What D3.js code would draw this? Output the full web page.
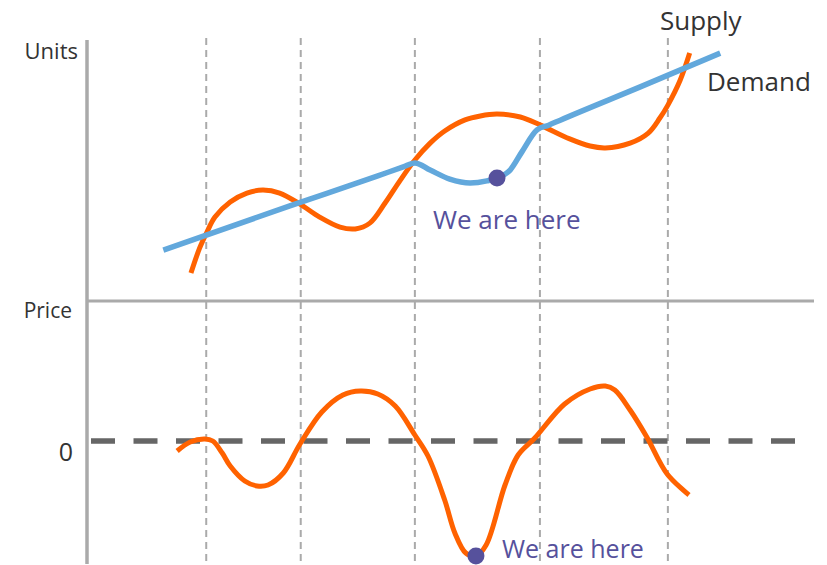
<!DOCTYPE html>
<html>
<head>
<meta charset="utf-8">
<script src="https://cdn.jsdelivr.net/npm/d3@7"></script>
<style>
  body { margin: 0; background: #fff; }
  text { font-family: "Open Sans", "Noto Sans", sans-serif; }
</style>
</head>
<body>
<div id="chart"></div>
<script>
// time axis goes 0..100, units 0..100, price around 0
let periods = [16.4, 29.4, 45.1, 62.3, 79.9];

let supplyT = [14.3, 15.5, 16.5, 17.6, 19.7, 22.0, 24.2, 26.5, 29.3, 32.0, 34.8, 36.9, 38.9, 41.0, 43.1, 45.1,
  47.2, 49.2, 52.0, 54.1, 56.4, 59.6, 62.3, 66.4, 69.2, 71.3, 74.7, 77.2, 78.8, 79.9, 81.6, 82.9];
let supplyUnits = [10.6, 20.1, 26.1, 31.8, 37.5, 40.9, 42.0, 40.9, 36.7, 31.8, 28.0, 27.3, 29.5, 37.1, 45.8, 53.4,
  59.8, 64.4, 68.6, 70.1, 70.8, 69.7, 66.7, 61.4, 58.7, 58.0, 59.8, 63.6, 69.3, 74.2, 83.7, 93.9];

let demandT = [10.5, 27.9, 40.0, 43.5, 45.1, 47.2, 49.9, 52.7, 55.0, 56.4, 58.2, 59.8, 61.9, 63.5, 65.1, 76.1, 87.1];
let demandUnits = [19.3, 36.0, 47.4, 50.8, 52.3, 49.6, 46.2, 44.7, 45.5, 46.6, 49.6, 56.4, 64.8, 66.6, 68.5, 81.1, 93.9];

let priceT = [12.4, 14.2, 16.2, 17.3, 18.6, 19.7, 21.7, 23.4, 24.9, 27.0, 29.3, 32.3, 35.2, 37.6, 40.0, 42.4, 45.1,
  46.9, 49.2, 50.6, 52.1, 53.5, 54.9, 57.5, 59.3, 61.6, 65.7, 69.2, 71.3, 72.6, 74.7, 77.0, 79.8, 82.8];
let priceVal = [-0.10, -0.01, 0.02, 0, -0.12, -0.25, -0.40, -0.45, -0.44, -0.32, -0.03, 0.29, 0.46, 0.50, 0.47, 0.35, 0.06,
  -0.15, -0.59, -0.92, -1.12, -1.15, -1.04, -0.44, -0.14, 0.03, 0.37, 0.52, 0.55, 0.51, 0.31, 0.04, -0.33, -0.54];

let hereUnits = {t: 56.4, v: 46.6};
let herePrice = {t: 53.5, v: -1.15};

var svg = d3.select("#chart").append("svg").attr("width", 827).attr("height", 565);

var x = d3.scaleLinear().domain([0, 100]).range([87, 814]);
var yU = d3.scaleLinear().domain([0, 100]).range([301, 37]);
var yP = d3.scaleLinear().domain([-1, 1]).range([541, 341]);

var orange = "#ff6200", blue = "#62a8dc", purple = "#56519c", grey = "#aaaaaa";

// period lines
svg.selectAll(".period").data(periods).enter().append("line")
  .attr("x1", d => x(d)).attr("x2", d => x(d))
  .attr("y1", 38).attr("y2", 565)
  .attr("stroke", grey).attr("stroke-width", 2).attr("stroke-dasharray", "7,5");

// axes
svg.append("line").attr("x1", 87).attr("x2", 87).attr("y1", 40).attr("y2", 564)
  .attr("stroke", grey).attr("stroke-width", 3.5);
svg.append("line").attr("x1", 87).attr("x2", 814).attr("y1", yU(0)).attr("y2", yU(0))
  .attr("stroke", grey).attr("stroke-width", 3);
svg.append("line").attr("x1", 91).attr("x2", 796).attr("y1", yP(0)).attr("y2", yP(0))
  .attr("stroke", "#666").attr("stroke-width", 5.5).attr("stroke-dasharray", "24,18.5");

var curve = d3.curveCatmullRom.alpha(0.5);
var lineU = d3.line().x(d => x(d[0])).y(d => yU(d[1])).curve(curve);
var lineD = d3.line().x(d => x(d[0])).y(d => yU(d[1])).curve(d3.curveMonotoneX);
var lineP = d3.line().x(d => x(d[0])).y(d => yP(d[1])).curve(curve);

svg.append("path").attr("d", lineU(d3.zip(supplyT, supplyUnits)))
  .attr("fill", "none").attr("stroke", orange).attr("stroke-width", 5);
svg.append("path").attr("d", lineD(d3.zip(demandT, demandUnits)))
  .attr("fill", "none").attr("stroke", blue).attr("stroke-width", 5.5);
svg.append("path").attr("d", lineP(d3.zip(priceT, priceVal)))
  .attr("fill", "none").attr("stroke", orange).attr("stroke-width", 5);

svg.append("circle").attr("cx", x(hereUnits.t)).attr("cy", yU(hereUnits.v)).attr("r", 8.5).attr("fill", purple);
svg.append("circle").attr("cx", x(herePrice.t)).attr("cy", yP(herePrice.v)).attr("r", 8.5).attr("fill", purple);

// labels
function label(txt, px, py, size, anchor, color) {
  svg.append("text").attr("x", px).attr("y", py).attr("font-size", size)
    .attr("text-anchor", anchor).attr("fill", color).text(txt);
}
label("Units", 78, 59, 22, "end", "#333");
label("Price", 72, 318, 21, "end", "#333");
label("0", 73, 461, 25, "end", "#333");
label("Supply", 660, 30, 26, "start", "#333");
label("Demand", 707, 91, 26, "start", "#333");
label("We are here", 433, 229, 26, "start", purple);
label("We are here", 502, 558, 25, "start", purple);
</script>
</body>
</html>
